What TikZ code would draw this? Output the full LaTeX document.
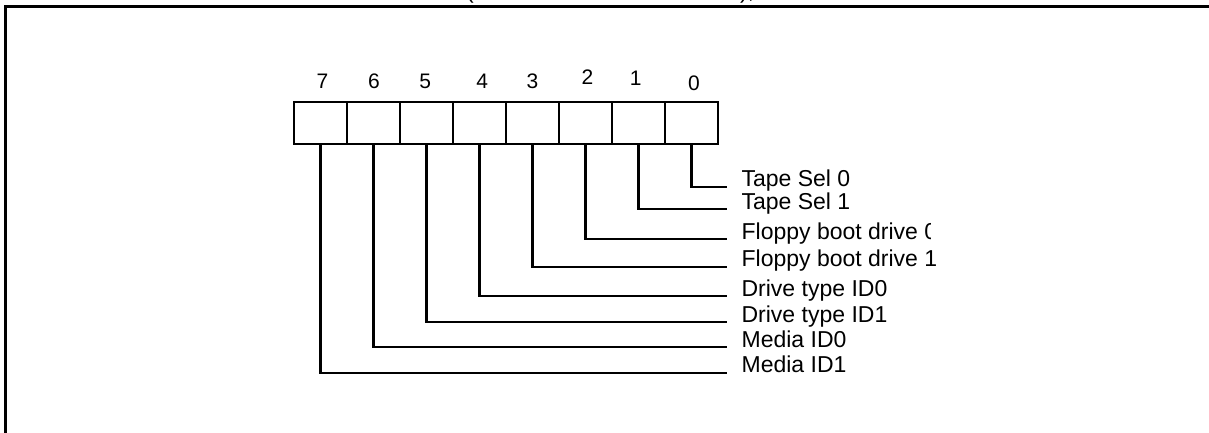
\documentclass[tikz,border=0pt]{standalone}
\usepackage{fontspec}
\setmainfont{Liberation Sans}
\begin{document}
\begin{tikzpicture}[x=1pt,y=-1pt,line width=2.2pt,
  bitbox/.style={draw,minimum width=53pt,minimum height=42pt,inner sep=0pt},
  bitnum/.style={font=\fontsize{21}{25}\selectfont,inner sep=0pt,anchor=base},
  sigtxt/.style={font=\fontsize{23}{27}\selectfont,inner sep=0pt,anchor=base west}]
\useasboundingbox (0,0) rectangle (1209,433);
%frame
\coordinate (fb) at (5.5,440);
\coordinate (fc) at (5.5,6.5);
\coordinate (fr) at (1215,6.5);
\draw (fb) -- (fc) -- (fr);
\node[sigtxt,anchor=base] (lpar) at (470,-1) {(};
\node[sigtxt] (rpar) at (739,-1) {),};
%register
\foreach \i/\nx/\ny in {7/322.5/88.3,6/374/88.3,5/425.3/88.3,4/482.3/88.3,
                        3/532.5/89,2/587.5/85,1/635.7/85.7,0/694/91}{
  \node[bitbox] (b\i) at ({320.5+(7-\i)*53},123.3) {};
  \node[bitnum] (n\i) at (\nx,\ny) {\i};
}
%signals
\foreach \i/\ly/\lab in {0/186.7/Tape Sel 0,1/209.3/Tape Sel 1,
                         3/266.7/Floppy boot drive 1,4/296/Drive type ID0,
                         5/322.3/Drive type ID1,6/347.3/Media ID0,7/372.7/Media ID1}{
  \coordinate (e\i) at (727,\ly);
  \draw (b\i.south) |- (e\i);
  \node[sigtxt] (l\i) at (740.5,\ly) {\lab};
}
\coordinate (e2) at (727,239);
\draw (b2.south) |- (e2);
\begin{scope}
\clip (735,215) rectangle (930,250);
\node[sigtxt] (l2) at (740.5,239) {Floppy boot drive 0};
\end{scope}
\end{tikzpicture}
\end{document}
